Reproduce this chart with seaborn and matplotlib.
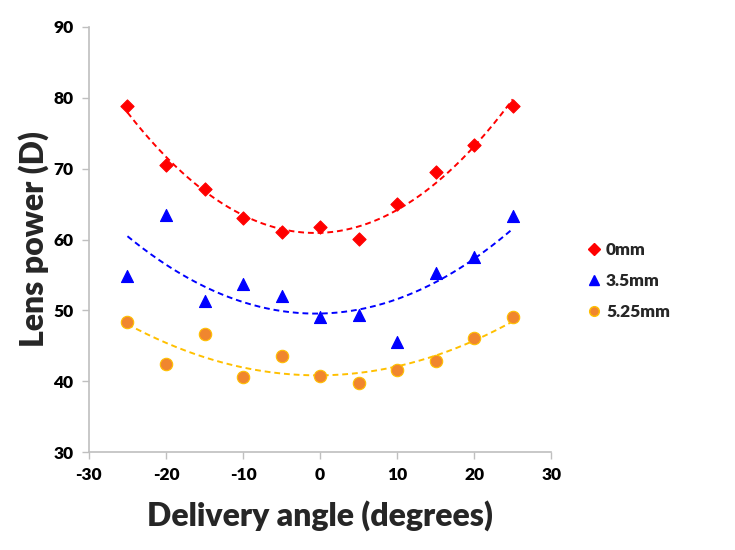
import numpy as np
import pandas as pd
import matplotlib
matplotlib.use("Agg")
import matplotlib.pyplot as plt
import seaborn as sns

angles = [-25, -20, -15, -10, -5, 0, 5, 10, 15, 20, 25]
power_0mm = [78.9, 70.5, 67.2, 63.1, 61.1, 61.7, 60.1, 65.0, 69.5, 73.3, 78.8]
power_3_5mm = [54.8, 63.5, 51.3, 53.7, 52.1, 49.0, 49.3, 45.6, 55.3, 57.5, 63.3]
power_5_25mm = [48.4, 42.5, 46.7, 40.6, 43.5, 40.8, 39.7, 41.6, 42.8, 46.1, 49.1]
series_names = ["0mm", "3.5mm", "5.25mm"]
x_ticks = [-30, -20, -10, 0, 10, 20, 30]
y_ticks = [30, 40, 50, 60, 70, 80, 90]

sns.set_theme(style="white")
plt.rcParams['font.family'] = ['Lato', 'DejaVu Sans']

fig = plt.figure(figsize=(7.35, 5.5), dpi=100)
ax = fig.add_axes([0.121, 0.178, 0.629, 0.773])

styles = [
    dict(marker="D", color="#FF0000", edge="#FF0000", line="#FF0000", size=45),
    dict(marker="^", color="#0000FF", edge="#0000FF", line="#0000FF", size=75),
    dict(marker="o", color="#F0862E", edge="#FFC000", line="#FFC000", size=80),
]
all_series = [power_0mm, power_3_5mm, power_5_25mm]

handles = []
for name, vals, st in zip(series_names, all_series, styles):
    df = pd.DataFrame({"angle": angles, "power": vals})
    coef = np.polyfit(df["angle"], df["power"], 2)
    xs = np.linspace(min(angles), max(angles), 200)
    fit = pd.DataFrame({"angle": xs, "power": np.polyval(coef, xs)})
    sns.lineplot(data=fit, x="angle", y="power", ax=ax, color=st["line"],
                 linestyle=(0, (3, 2)), linewidth=1.4, legend=False)
    sns.scatterplot(data=df, x="angle", y="power", ax=ax, marker=st["marker"],
                    color=st["color"], edgecolor=st["edge"], linewidth=0.8,
                    s=st["size"], legend=False, zorder=3)
    handles.append(plt.Line2D([], [], linestyle="none", marker=st["marker"],
                              markerfacecolor=st["color"], markeredgecolor=st["edge"],
                              markersize=7 if st["marker"] != "D" else 6, label=name))

ax.set_xlim(-30, 30)
ax.set_ylim(30, 90)
ax.set_xticks(x_ticks)
ax.set_yticks(y_ticks)
ax.set_xticklabels([str(t) for t in x_ticks], fontsize=12.5, fontweight="heavy")
ax.set_yticklabels([str(t) for t in y_ticks], fontsize=12.5, fontweight="heavy")
ax.tick_params(axis="both", direction="out", length=5, width=1, color="#BFBFBF",
               pad=6, labelcolor="black")
ax.tick_params(axis="both", which="both", bottom=True, left=True)
for s in ["top", "right"]:
    ax.spines[s].set_visible(False)
for s in ["left", "bottom"]:
    ax.spines[s].set_color("#BFBFBF")
    ax.spines[s].set_linewidth(1.2)
ax.grid(False)

ax.set_xlabel("Delivery angle (degrees)", fontsize=23, fontweight="heavy", labelpad=12)
ax.set_ylabel("Lens power (D)", fontsize=23, fontweight="heavy", labelpad=3)

fig.legend(handles=handles, loc="upper left", bbox_to_anchor=(0.775, 0.588),
           frameon=False, prop={"size": 12.5, "weight": "heavy"},
           handletextpad=0.2, labelspacing=0.85, handlelength=1.0)

fig.savefig("out.png", dpi=100)
